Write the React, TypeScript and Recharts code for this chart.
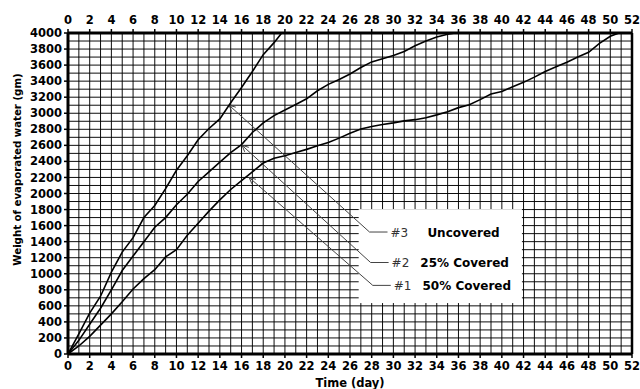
import { LineChart, Line, XAxis, YAxis, CartesianGrid, ReferenceLine } from "recharts";

const FONT = "'DejaVu Sans', Verdana, sans-serif";

// axis ticks and grid
const DAY_TICKS = Array.from({ length: 27 }, (_, i) => i * 2);
const WEIGHT_TICKS = Array.from({ length: 21 }, (_, i) => i * 200);
const DAY_GRID = Array.from({ length: 53 }, (_, i) => i);
const WEIGHT_GRID = Array.from({ length: 41 }, (_, i) => i * 100);

// #3 uncovered
const UNCOVERED_DAY = [0, 1, 2, 3, 4, 5, 6, 7, 8, 9, 10, 11, 12, 13, 14, 15, 16, 17, 18, 19, 19.7];
const UNCOVERED = [0, 250, 510, 720, 1020, 1270, 1450, 1700, 1850, 2060, 2290, 2470, 2670, 2810, 2930, 3130, 3320, 3520, 3730, 3880, 4000];

// #2 25% covered
const COVER25_DAY = [
  0, 1, 2, 3, 4, 5, 6, 7, 8, 9, 10, 11, 12, 13, 14, 15, 16, 17, 18, 19, 20,
  21, 22, 23, 24, 25, 26, 27, 28, 29, 30, 31, 32, 33, 34, 35, 35.7,
];
const COVER25 = [
  0, 170, 370, 570, 800, 1040, 1220, 1400, 1580, 1700, 1860, 1990, 2150, 2270, 2390, 2510, 2610, 2760, 2880, 2970, 3040,
  3110, 3180, 3280, 3360, 3420, 3490, 3570, 3640, 3680, 3720, 3770, 3840, 3900, 3950, 3985, 4000,
];

// #1 50% covered
const COVER50_DAY = [
  0, 1, 2, 3, 4, 5, 6, 7, 8, 9, 10, 11, 12, 13, 14, 15, 16, 17, 18, 19, 20, 21, 22, 23, 24, 25,
  26, 27, 28, 29, 30, 31, 32, 33, 34, 35, 36, 37, 38, 39, 40, 41, 42, 43, 44, 45, 46, 47, 48, 49, 50, 50.8,
];
const COVER50 = [
  0, 100, 220, 360, 500, 650, 810, 940, 1050, 1210, 1300, 1480, 1630, 1780, 1920, 2050, 2160, 2270, 2380, 2440, 2470, 2510, 2550, 2595, 2635, 2690,
  2750, 2805, 2835, 2860, 2880, 2905, 2920, 2945, 2980, 3020, 3070, 3105, 3170, 3240, 3270, 3330, 3385, 3450, 3520, 3580, 3635, 3700, 3760, 3870, 3960, 4000,
];

// annotation (leader lines from curve to label)
const TAGS = ["#3", "#2", "#1"];
const DESCS = ["Uncovered", "25% Covered", "50% Covered"];
const TIP_DAY = [14.85, 16.05, 16.7];
const TIP_WEIGHT = [3100, 2600, 2200];
const ELBOW_DAY = [27.8, 27.9, 28.1];
const ELBOW_WEIGHT = [1520, 1140, 855];
const BOX_DAY = [26.8, 41.85];
const BOX_WEIGHT = [635, 1805];

const toPoints = (days: number[], weights: number[]) => days.map((d, i) => ({ day: d, w: weights[i] }));

const tickStyle = { fontFamily: FONT, fontSize: 11.5, fontWeight: "bold", fill: "#000" };

function YTitle(props: any) {
  const { x, y, height } = props.viewBox;
  const cx = x + 9;
  const cy = y + height / 2 - 24;
  return (
    <text
      x={cx}
      y={cy}
      transform={`rotate(-90 ${cx} ${cy})`}
      textAnchor="middle"
      dominantBaseline="central"
      style={{ fontFamily: FONT, fontSize: 10.2, fontWeight: "bold", fill: "#000" }}
    >
      Weight of evaporated water (gm)
    </text>
  );
}

// white label box, drawn from its two corners
const boxShape = (p: any) => {
  const { x1, y1, x2, y2 } = p;
  return <rect x={Math.min(x1, x2)} y={Math.min(y1, y2)} width={Math.abs(x2 - x1)} height={Math.abs(y2 - y1)} fill="#fff" />;
};

function makeLeader(i: number) {
  return (p: any) => {
    const { x1, y1, x2, y2 } = p;
    const a = Math.atan2(y2 - y1, x2 - x1);
    const w1x = x1 + 7 * Math.cos(a - 0.45);
    const w1y = y1 + 7 * Math.sin(a - 0.45);
    const w2x = x1 + 7 * Math.cos(a + 0.45);
    const w2y = y1 + 7 * Math.sin(a + 0.45);
    const ex = x2 + 18;
    return (
      <g>
        <polyline points={`${x1},${y1} ${x2},${y2} ${ex},${y2}`} fill="none" stroke="#444" strokeWidth={1} />
        <polyline points={`${w1x},${w1y} ${x1},${y1} ${w2x},${w2y}`} fill="none" stroke="#444" strokeWidth={1} />
        <text x={ex + 3} y={y2 + 4.5} style={{ fontFamily: FONT, fontSize: 12, fill: "#333" }}>
          {TAGS[i]}
        </text>
        <text x={ex + 76} y={y2 + 4.5} textAnchor="middle" style={{ fontFamily: FONT, fontSize: 12, fontWeight: "bold", fill: "#000" }}>
          {DESCS[i]}
        </text>
      </g>
    );
  };
}

export default function App() {
  return (
    <div style={{ position: "absolute", left: 0, top: 0, background: "#fff" }}>
      <LineChart width={640} height={389} margin={{ top: 0, right: 7, bottom: 0, left: 8 }}>
        <XAxis xAxisId="grid" type="number" dataKey="day" domain={[0, 52]} allowDataOverflow ticks={DAY_GRID} interval={0} hide />
        <YAxis yAxisId="grid" type="number" domain={[0, 4000]} allowDataOverflow ticks={WEIGHT_GRID} interval={0} hide />
        <CartesianGrid xAxisId="grid" yAxisId="grid" stroke="#000" strokeWidth={1} strokeOpacity={0.95} />
        <XAxis
          xAxisId="top"
          orientation="top"
          type="number"
          dataKey="day"
          domain={[0, 52]}
          allowDataOverflow
          ticks={DAY_TICKS}
          interval={0}
          height={33}
          tickSize={4}
          tickMargin={5}
          tick={tickStyle}
          axisLine={{ stroke: "#000", strokeWidth: 3 }}
          tickLine={{ stroke: "#000", strokeWidth: 1.5 }}
        />
        <XAxis
          type="number"
          dataKey="day"
          domain={[0, 52]}
          allowDataOverflow
          ticks={DAY_TICKS}
          interval={0}
          height={35}
          tickSize={4}
          tickMargin={4}
          tick={tickStyle}
          axisLine={{ stroke: "#000", strokeWidth: 3 }}
          tickLine={{ stroke: "#000", strokeWidth: 1.5 }}
          label={{ value: "Time (day)", position: "insideBottom", offset: 2, style: { fontFamily: FONT, fontSize: 11.5, fontWeight: "bold", fill: "#000" } }}
        />
        <YAxis
          type="number"
          domain={[0, 4000]}
          allowDataOverflow
          ticks={WEIGHT_TICKS}
          interval={0}
          width={60}
          tickSize={4}
          tickMargin={2}
          tick={tickStyle}
          axisLine={{ stroke: "#000", strokeWidth: 3 }}
          tickLine={{ stroke: "#000", strokeWidth: 1.5 }}
          label={{ content: (p: any) => <YTitle {...p} /> }}
        />
        <YAxis
          yAxisId="right"
          orientation="right"
          type="number"
          domain={[0, 4000]}
          allowDataOverflow
          ticks={WEIGHT_TICKS}
          interval={0}
          width={1}
          tickSize={3}
          tick={false}
          axisLine={{ stroke: "#000", strokeWidth: 2.5 }}
          tickLine={{ stroke: "#000", strokeWidth: 1.5 }}
        />
        <ReferenceLine
          segment={[
            { x: BOX_DAY[0], y: BOX_WEIGHT[0] },
            { x: BOX_DAY[1], y: BOX_WEIGHT[1] },
          ]}
          shape={boxShape}
        />
        {TAGS.map((t, i) => (
          <ReferenceLine
            key={t}
            segment={[
              { x: TIP_DAY[i], y: TIP_WEIGHT[i] },
              { x: ELBOW_DAY[i], y: ELBOW_WEIGHT[i] },
            ]}
            shape={makeLeader(i)}
          />
        ))}
        <Line data={toPoints(UNCOVERED_DAY, UNCOVERED)} dataKey="w" stroke="#000" strokeWidth={1.6} dot={false} isAnimationActive={false} />
        <Line data={toPoints(COVER25_DAY, COVER25)} dataKey="w" stroke="#000" strokeWidth={1.6} dot={false} isAnimationActive={false} />
        <Line data={toPoints(COVER50_DAY, COVER50)} dataKey="w" stroke="#000" strokeWidth={1.6} dot={false} isAnimationActive={false} />
      </LineChart>
    </div>
  );
}
